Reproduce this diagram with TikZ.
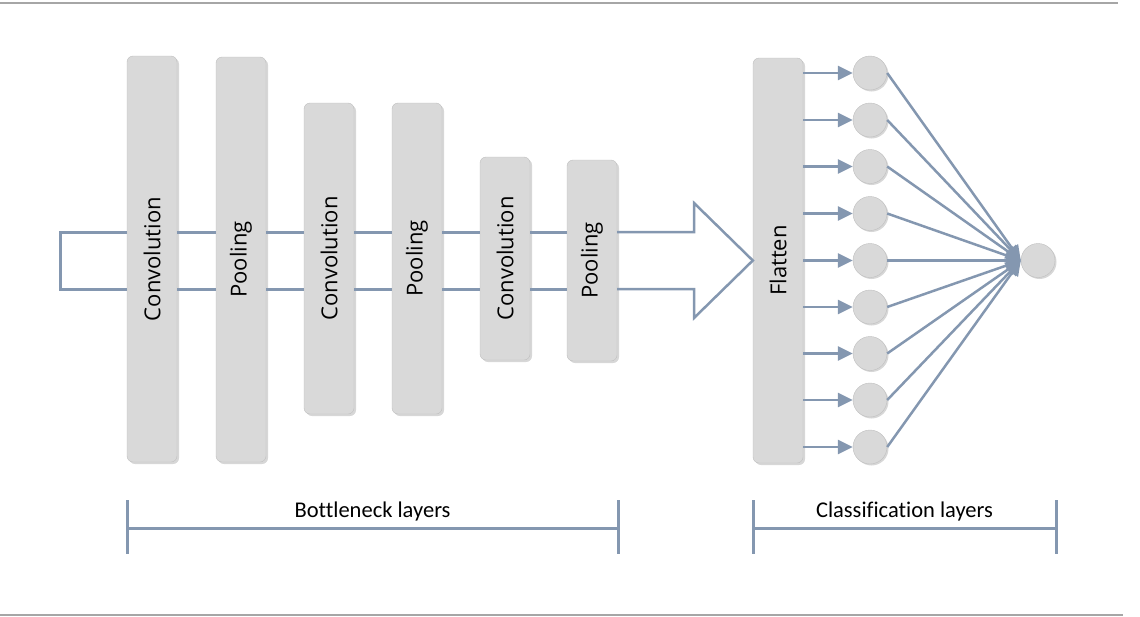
\documentclass[tikz,border=0pt]{standalone}
\usepackage{fontspec}
\setmainfont{Open Sans}
\newfontfamily\labelfont{Carlito}[Ligatures=NoCommon]
\usepackage{graphicx}
\usetikzlibrary{arrows.meta,shadows}
\definecolor{linegray}{HTML}{8497B0}
\definecolor{boxfill}{HTML}{D9D9D9}
\definecolor{boxline}{HTML}{BFBFBF}
\definecolor{rulegray}{HTML}{A6A6A6}
\begin{document}
\begin{tikzpicture}[x=1pt, y=-1pt]
\tikzset{box/.style={rectangle, rounded corners=6pt, draw=boxline, fill=boxfill, minimum width=50pt, inner sep=0pt, font=\fontsize{22}{26}\selectfont, drop shadow={shadow xshift=2pt, shadow yshift=-2pt, opacity=0.35, fill=black!45}}}
\tikzset{unit/.style={circle, draw=boxline, fill=boxfill, minimum size=34pt, inner sep=0pt, drop shadow={shadow xshift=1.5pt, shadow yshift=-1.5pt, opacity=0.35, fill=black!45}}}
\tikzset{line/.style={draw=linegray, line width=3pt}}
\tikzset{arrow/.style={draw=linegray, line width=2.5pt, -{Triangle[length=15pt, width=14pt]}}}
\tikzset{brace/.style={draw=linegray, line width=3pt}}
\tikzset{bracelabel/.style={above=2pt, text=black, font=\labelfont\fontsize{22.5}{27}\selectfont}}
\useasboundingbox (0,0) rectangle (1140,616);

% rules above and below
\draw[rulegray, line width=2pt] (0,2.5) -- (1118,2.5);
\draw[rulegray, line width=2pt] (0,614.5) -- (1123,614.5);

% bottleneck layers
\node[box, minimum height=406pt] (conv1) at (152,259) {\rotatebox{90}{Convolution}};
\node[box, minimum height=405pt] (pool1) at (241,259.5) {\rotatebox{90}{Pooling}};
\node[box, minimum height=311pt] (conv2) at (329,258.5) {\rotatebox{90}{Convolution}};
\node[box, minimum height=311pt] (pool2) at (417,258.5) {\rotatebox{90}{Pooling}};
\node[box, minimum height=203pt] (conv3) at (505,258.5) {\rotatebox{90}{Convolution}};
\node[box, minimum height=201pt] (pool3) at (592,260.5) {\rotatebox{90}{Pooling}};

% classification layers
\node[box, minimum height=405pt] (flat) at (778,260.5) {\rotatebox{90}{Flatten}};
\node[unit] (n1) at (870,73) {};
\node[unit] (n2) at (870,120) {};
\node[unit] (n3) at (870,166.5) {};
\node[unit] (n4) at (870,213.5) {};
\node[unit] (n5) at (870,260.5) {};
\node[unit] (n6) at (870,307) {};
\node[unit] (n7) at (870,353.5) {};
\node[unit] (n8) at (870,400) {};
\node[unit] (n9) at (870,447) {};
\node[unit] (out) at (1038,260.5) {};

% input path through the layers
\coordinate (up) at (0,232);
\coordinate (lo) at (0,289);
\coordinate (inup) at (60,232);
\coordinate (inlo) at (60,289);
\draw[line] (conv1.west |- up) -- (inup) -- (inlo) -- (conv1.west |- lo);
\draw[line] (conv1.east |- up) -- (pool1.west |- up);
\draw[line] (conv1.east |- lo) -- (pool1.west |- lo);
\draw[line] (pool1.east |- up) -- (conv2.west |- up);
\draw[line] (pool1.east |- lo) -- (conv2.west |- lo);
\draw[line] (conv2.east |- up) -- (pool2.west |- up);
\draw[line] (conv2.east |- lo) -- (pool2.west |- lo);
\draw[line] (pool2.east |- up) -- (conv3.west |- up);
\draw[line] (pool2.east |- lo) -- (conv3.west |- lo);
\draw[line] (conv3.east |- up) -- (pool3.west |- up);
\draw[line] (conv3.east |- lo) -- (pool3.west |- lo);

% big arrow into flatten
\coordinate (headup) at (694,232);
\coordinate (headlo) at (694,289);
\draw[line, line width=2.5pt, line join=miter] (pool3.east |- up) -- (headup) -- (694,203) -- (flat.west) -- (694,318) -- (headlo) -- (pool3.east |- lo);

% flatten to units
\draw[arrow] (flat.east |- n1) -- (n1);
\draw[arrow] (flat.east |- n2) -- (n2);
\draw[arrow] (flat.east |- n3) -- (n3);
\draw[arrow] (flat.east |- n4) -- (n4);
\draw[arrow] (flat.east |- n5) -- (n5);
\draw[arrow] (flat.east |- n6) -- (n6);
\draw[arrow] (flat.east |- n7) -- (n7);
\draw[arrow] (flat.east |- n8) -- (n8);
\draw[arrow] (flat.east |- n9) -- (n9);

% units to output
\draw[arrow] (n1.east) -- (out.west);
\draw[arrow] (n2.east) -- (out.west);
\draw[arrow] (n3.east) -- (out.west);
\draw[arrow] (n4.east) -- (out.west);
\draw[arrow] (n5.east) -- (out.west);
\draw[arrow] (n6.east) -- (out.west);
\draw[arrow] (n7.east) -- (out.west);
\draw[arrow] (n8.east) -- (out.west);
\draw[arrow] (n9.east) -- (out.west);

% brackets below
\coordinate (bnL) at (127,528);
\coordinate (bnR) at (618,528);
\coordinate (clL) at (753,528);
\coordinate (clR) at (1056,528);
\draw[brace] (127,500) -- (127,554);
\draw[brace] (618,500) -- (618,554);
\draw[brace] (bnL) -- node[bracelabel] {Bottleneck layers} (bnR);
\draw[brace] (753,500) -- (753,554);
\draw[brace] (1056,500) -- (1056,554);
\draw[brace] (clL) -- node[bracelabel] {Classification layers} (clR);
\end{tikzpicture}
\end{document}
